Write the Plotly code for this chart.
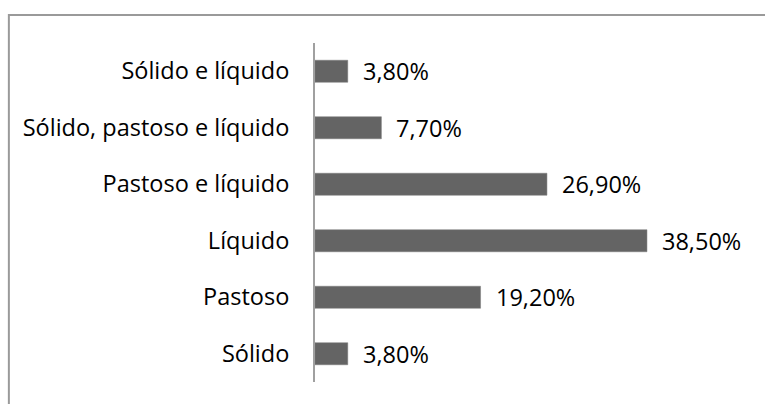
import plotly.graph_objects as go

categories = ["Sólido", "Pastoso", "Líquido", "Pastoso e líquido",
              "Sólido, pastoso e líquido", "Sólido e líquido"]
values = [3.8, 19.2, 38.5, 26.9, 7.7, 3.8]
labels = [f"{v:.2f}".replace(".", ",") + "%" for v in values]

FONT = "Open Sans"
FS = 23.5

fig = go.Figure()
fig.add_trace(go.Bar(
    x=values, y=categories, orientation="h",
    marker=dict(color="#646464", line=dict(color="#7a7a7a", width=0.5)),
    width=0.39, hoverinfo="skip",
))

for v, c, t in zip(values, categories, labels):
    fig.add_annotation(x=v, y=c, text=t, showarrow=False, xanchor="left",
                       xshift=13, font=dict(family=FONT, size=FS, color="#000"))

fig.add_shape(type="rect", xref="paper", yref="paper",
              x0=-0.789, x1=1.3, y0=-0.3, y1=1.0826,
              line=dict(color="#9a9a9a", width=2), layer="below")

fig.update_layout(
    width=765, height=404,
    margin=dict(l=315, r=62, t=43, b=22),
    paper_bgcolor="white", plot_bgcolor="white",
    showlegend=False,
    xaxis=dict(range=[0, 45], visible=False, fixedrange=True),
    yaxis=dict(categoryorder="array", categoryarray=categories,
               range=[-0.5, 5.5], showline=True, linecolor="#a0a0a0",
               linewidth=2, ticks="", showgrid=False, zeroline=False,
               ticklabelstandoff=19, fixedrange=True,
               tickfont=dict(family=FONT, size=FS, color="#000")),
)

fig.write_html("out.html", config={"displayModeBar": False},
               post_script="document.body.style.margin='0';")
